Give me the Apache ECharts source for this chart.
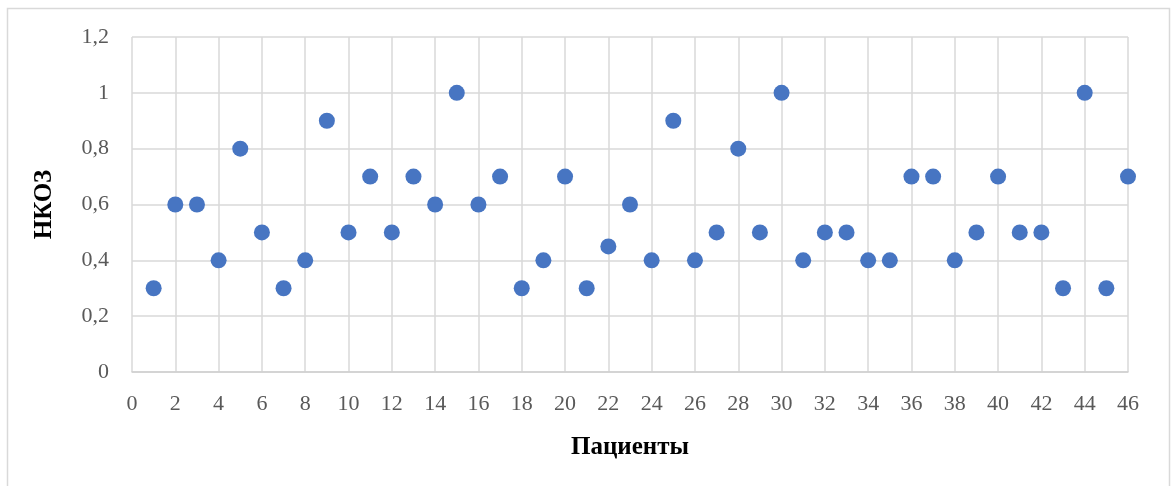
<!DOCTYPE html>
<html>
<head>
<meta charset="utf-8">
<script src="https://cdn.jsdelivr.net/npm/echarts@6/dist/echarts.min.js"></script>
<style>
  html, body { margin: 0; padding: 0; background: #fff; }
  #chart { width: 1173px; height: 486px; }
</style>
</head>
<body>
<div id="chart"></div>
<script>
// Patient numbers and their НКОЗ values
const patients = [1,2,3,4,5,6,7,8,9,10,11,12,13,14,15,16,17,18,19,20,21,22,23,24,25,26,27,28,29,30,31,32,33,34,35,36,37,38,39,40,41,42,43,44,45,46];
const nkoz = [0.3,0.6,0.6,0.4,0.8,0.5,0.3,0.4,0.9,0.5,0.7,0.5,0.7,0.6,1.0,0.6,0.7,0.3,0.4,0.7,0.3,0.45,0.6,0.4,0.9,0.4,0.5,0.8,0.5,1.0,0.4,0.5,0.5,0.4,0.4,0.7,0.7,0.4,0.5,0.7,0.5,0.5,0.3,1.0,0.3,0.7];
const xAxisName = 'Пациенты';
const yAxisName = 'НКОЗ';

const serif = '"Liberation Serif", "DejaVu Serif", serif';
const chart = echarts.init(document.getElementById('chart'));
chart.setOption({
  animation: false,
  graphic: [{
    type: 'rect',
    shape: { x: 7.5, y: 8.5, width: 1162, height: 490 },
    style: { fill: 'none', stroke: '#d9d9d9', lineWidth: 1.5 },
    silent: true
  }],
  grid: { left: 132, top: 37, right: 45, bottom: 114 },
  xAxis: {
    type: 'value', min: 0, max: 46, interval: 2,
    name: xAxisName, nameLocation: 'middle', nameGap: 63,
    nameTextStyle: { fontFamily: serif, fontSize: 25, fontWeight: 'bold', color: '#000' },
    axisLine: { show: true, lineStyle: { color: '#d0d0d0', width: 1.5 } },
    axisTick: { show: false },
    axisLabel: { fontFamily: serif, fontSize: 22, color: '#595959', margin: 21 },
    splitLine: { show: true, lineStyle: { color: '#d9d9d9', width: 1.5 } }
  },
  yAxis: {
    type: 'value', min: 0, max: 1.2, interval: 0.2,
    name: yAxisName, nameLocation: 'middle', nameGap: 75, nameRotate: 90,
    nameTextStyle: { fontFamily: serif, fontSize: 25, fontWeight: 'bold', color: '#000' },
    axisLine: { show: false },
    axisTick: { show: false },
    axisLabel: {
      fontFamily: serif, fontSize: 22, color: '#595959', margin: 23,
      formatter: v => String(Math.round(v * 10) / 10).replace('.', ',')
    },
    splitLine: { show: true, lineStyle: { color: '#d9d9d9', width: 1.5 } }
  },
  series: [{
    type: 'scatter',
    data: patients.map((p, i) => [p, nkoz[i]]),
    symbol: 'circle',
    symbolSize: 16,
    itemStyle: { color: '#4775C2', opacity: 1 }
  }]
});
</script>
</body>
</html>
